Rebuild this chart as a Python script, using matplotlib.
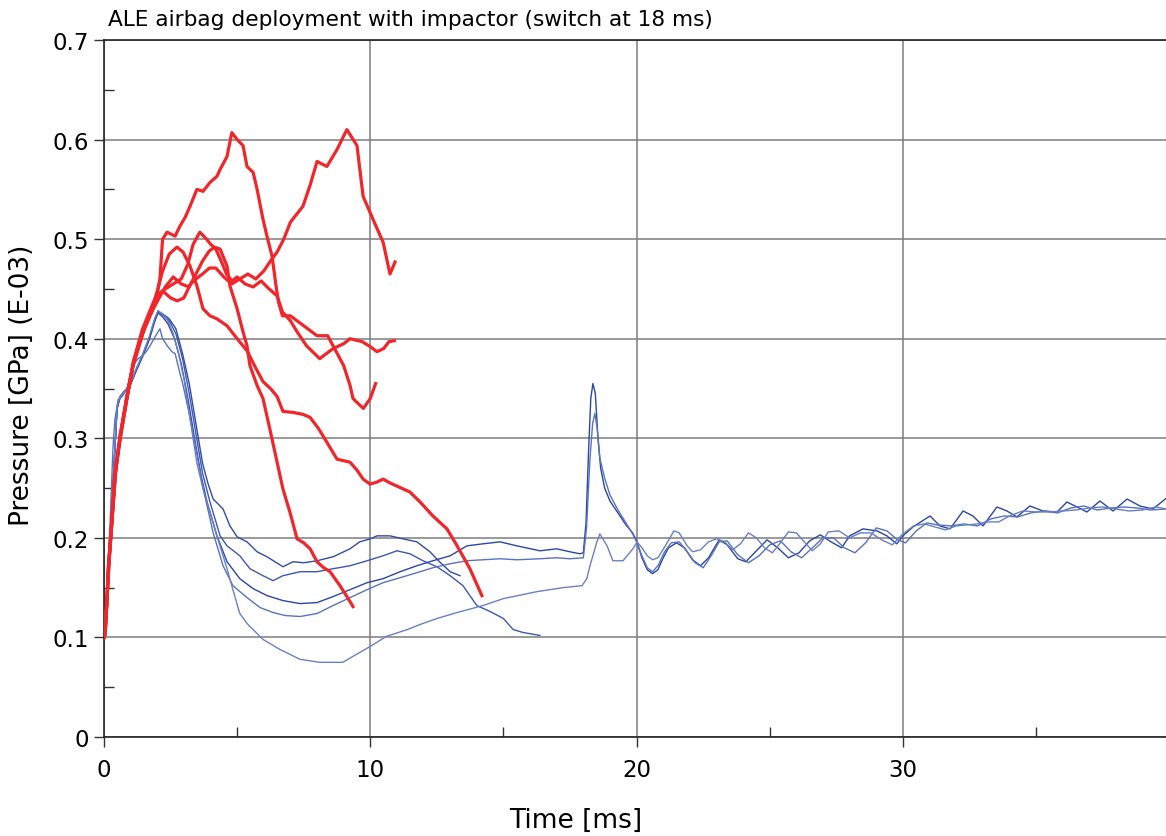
import matplotlib
matplotlib.use("Agg")
import matplotlib.pyplot as plt
from matplotlib.ticker import FixedLocator

plt.rcParams['font.family'] = ['DejaVu Sans']

# ---- data (time [ms], pressure [GPa E-03]) ----
# red: curves stopped early (before switch)
red_a = [(0, 0.10), (0.04, 0.103), (0.11, 0.137), (0.16, 0.17), (0.3, 0.219), (0.42, 0.268),
         (0.6, 0.30), (0.86, 0.342), (1.1, 0.377), (1.45, 0.41), (1.8, 0.433), (2.0, 0.445),
         (2.1, 0.46), (2.2, 0.50), (2.37, 0.507), (2.67, 0.503), (2.85, 0.513), (3.05, 0.522),
         (3.23, 0.533), (3.49, 0.55), (3.72, 0.548), (3.98, 0.557), (4.24, 0.563), (4.36, 0.57),
         (4.62, 0.583), (4.8, 0.607), (5.0, 0.60), (5.22, 0.594), (5.37, 0.573), (5.6, 0.567),
         (5.75, 0.55), (5.97, 0.52), (6.12, 0.503), (6.31, 0.483), (6.45, 0.455), (6.55, 0.437),
         (6.7, 0.423), (7.0, 0.423), (7.5, 0.413), (8.0, 0.403), (8.4, 0.403), (8.6, 0.393),
         (9.0, 0.373), (9.24, 0.353), (9.35, 0.34), (9.5, 0.336), (9.74, 0.33), (10.0, 0.34),
         (10.2, 0.355)]
red_b = [(0, 0.10), (0.05, 0.11), (0.12, 0.14), (0.2, 0.18), (0.32, 0.225), (0.45, 0.27),
         (0.62, 0.305), (0.88, 0.345), (1.12, 0.378), (1.48, 0.408), (1.85, 0.43), (2.05, 0.44),
         (2.3, 0.452), (2.6, 0.462), (2.9, 0.455), (3.2, 0.452), (3.45, 0.465), (3.7, 0.478),
         (3.95, 0.488), (4.15, 0.492), (4.36, 0.49), (4.62, 0.473), (4.73, 0.453), (5.0, 0.43),
         (5.22, 0.407), (5.37, 0.393), (5.48, 0.373), (5.75, 0.353), (5.97, 0.34), (6.23, 0.309),
         (6.5, 0.276), (6.72, 0.249), (6.98, 0.226), (7.25, 0.199), (7.5, 0.195), (7.74, 0.189),
         (8.0, 0.176), (8.25, 0.17), (8.49, 0.166), (8.86, 0.152), (9.1, 0.142), (9.35, 0.131)]
red_c = [(0, 0.10), (0.04, 0.105), (0.1, 0.135), (0.18, 0.172), (0.3, 0.22), (0.43, 0.266),
         (0.6, 0.302), (0.86, 0.34), (1.1, 0.374), (1.46, 0.406), (1.84, 0.432), (2.05, 0.445),
         (2.3, 0.45), (2.6, 0.455), (2.9, 0.46), (3.15, 0.475), (3.35, 0.495), (3.6, 0.507),
         (3.85, 0.50), (4.0, 0.495), (4.2, 0.49), (4.4, 0.478), (4.6, 0.465), (4.8, 0.458),
         (5.0, 0.462), (5.3, 0.455), (5.6, 0.452), (5.9, 0.458), (6.2, 0.45), (6.5, 0.443),
         (6.7, 0.427), (7.0, 0.418), (7.25, 0.407), (7.6, 0.393), (8.1, 0.38), (8.35, 0.385),
         (8.6, 0.39), (9.0, 0.395), (9.24, 0.40), (9.7, 0.397), (10.0, 0.392), (10.25, 0.387),
         (10.5, 0.39), (10.7, 0.397), (10.9, 0.398)]
red_d = [(0, 0.10), (0.05, 0.108), (0.11, 0.138), (0.17, 0.17), (0.3, 0.218), (0.41, 0.262),
         (0.6, 0.298), (0.85, 0.338), (1.08, 0.372), (1.45, 0.405), (1.8, 0.43), (2.0, 0.448),
         (2.2, 0.468), (2.45, 0.485), (2.74, 0.492), (2.97, 0.487), (3.23, 0.473), (3.49, 0.453),
         (3.72, 0.43), (3.98, 0.423), (4.24, 0.42), (4.62, 0.413), (5.0, 0.40), (5.37, 0.388),
         (5.67, 0.372), (5.97, 0.357), (6.25, 0.35), (6.5, 0.342), (6.72, 0.327), (7.1, 0.326),
         (7.47, 0.324), (7.74, 0.321), (8.05, 0.31), (8.37, 0.296), (8.75, 0.279), (9.24, 0.276),
         (9.5, 0.268), (9.73, 0.259), (9.99, 0.254), (10.25, 0.256), (10.48, 0.259), (10.75, 0.255),
         (11.0, 0.252), (11.49, 0.246), (11.87, 0.236), (12.35, 0.222), (12.88, 0.209),
         (13.26, 0.192), (13.74, 0.169), (14.19, 0.142)]
red_e = [(0, 0.10), (0.04, 0.102), (0.11, 0.133), (0.16, 0.168), (0.3, 0.216), (0.42, 0.264),
         (0.6, 0.299), (0.86, 0.341), (1.1, 0.375), (1.46, 0.408), (1.84, 0.431), (2.0, 0.44),
         (2.2, 0.448), (2.5, 0.441), (2.75, 0.438), (3.0, 0.441), (3.25, 0.455), (3.5, 0.461),
         (3.7, 0.465), (3.96, 0.471), (4.2, 0.471), (4.5, 0.462), (4.8, 0.455), (5.1, 0.46),
         (5.4, 0.465), (5.7, 0.46), (6.0, 0.468), (6.25, 0.478), (6.5, 0.487), (6.75, 0.50),
         (7.0, 0.517), (7.47, 0.533), (7.75, 0.555), (8.0, 0.578), (8.37, 0.573), (8.75, 0.59),
         (9.12, 0.61), (9.5, 0.594), (9.73, 0.543), (10.1, 0.52), (10.48, 0.497), (10.74, 0.465),
         (10.93, 0.477)]

# blue: curves that ran past the switch / full runs
blue_1 = [(0, 0.10), (0.05, 0.105), (0.11, 0.136), (0.23, 0.20), (0.34, 0.255), (0.41, 0.29),
          (0.49, 0.33), (0.6, 0.341), (0.75, 0.346), (1.0, 0.355), (1.2, 0.368), (1.45, 0.383),
          (1.7, 0.40), (1.9, 0.418), (2.03, 0.427), (2.2, 0.425), (2.45, 0.42), (2.7, 0.41),
          (2.95, 0.385), (3.2, 0.355), (3.45, 0.315), (3.7, 0.275), (3.9, 0.255), (4.1, 0.239),
          (4.47, 0.229), (4.73, 0.212), (5.0, 0.201), (5.37, 0.196), (5.75, 0.186), (6.12, 0.181),
          (6.72, 0.171), (7.1, 0.176), (7.5, 0.175), (8.0, 0.177), (8.6, 0.181), (9.24, 0.189),
          (9.6, 0.196), (10.0, 0.199), (10.25, 0.202), (10.74, 0.202), (11.23, 0.199),
          (11.75, 0.196), (12.24, 0.186), (12.6, 0.176), (13.0, 0.166), (13.37, 0.162)]
blue_2 = [(0, 0.10), (0.05, 0.106), (0.11, 0.137), (0.23, 0.202), (0.34, 0.256), (0.41, 0.29),
          (0.49, 0.331), (0.6, 0.34), (0.75, 0.345), (1.0, 0.356), (1.2, 0.369), (1.45, 0.384),
          (1.7, 0.401), (1.9, 0.419), (2.03, 0.428), (2.2, 0.424), (2.45, 0.418), (2.7, 0.405),
          (2.95, 0.38), (3.2, 0.345), (3.45, 0.305), (3.7, 0.265), (3.98, 0.236), (4.36, 0.202),
          (4.62, 0.192), (5.1, 0.182), (5.48, 0.169), (5.97, 0.162), (6.35, 0.157), (6.72, 0.162),
          (7.36, 0.166), (8.0, 0.166), (8.6, 0.169), (9.24, 0.172), (9.88, 0.177), (10.48, 0.182),
          (11.0, 0.187), (11.49, 0.184), (11.98, 0.177), (12.5, 0.171), (13.0, 0.162),
          (13.48, 0.152), (14.0, 0.132), (14.5, 0.126), (15.0, 0.119), (15.36, 0.108),
          (15.73, 0.105), (16.37, 0.102)]
blue_3 = [(0, 0.10), (0.05, 0.104), (0.11, 0.135), (0.23, 0.199), (0.34, 0.254), (0.41, 0.289),
          (0.49, 0.329), (0.6, 0.342), (0.75, 0.347), (1.0, 0.354), (1.2, 0.367), (1.45, 0.382),
          (1.7, 0.399), (1.9, 0.417), (2.03, 0.426), (2.2, 0.422), (2.4, 0.415), (2.65, 0.40),
          (2.9, 0.375), (3.15, 0.34), (3.4, 0.30), (3.65, 0.262), (3.87, 0.236), (4.24, 0.202),
          (4.62, 0.176), (5.1, 0.159), (5.6, 0.149), (6.12, 0.142), (6.72, 0.137), (7.36, 0.134),
          (8.0, 0.135), (8.6, 0.141), (9.24, 0.148), (9.88, 0.155), (10.48, 0.159), (11.12, 0.166),
          (11.75, 0.172), (12.35, 0.177), (13.0, 0.182), (13.63, 0.192), (14.23, 0.194),
          (14.87, 0.196), (15.5, 0.192), (16.37, 0.187), (17.0, 0.189), (17.5, 0.186),
          (17.87, 0.184), (18.0, 0.185), (18.1, 0.215), (18.2, 0.29), (18.28, 0.34),
          (18.36, 0.355), (18.45, 0.345), (18.55, 0.30), (18.65, 0.27), (18.8, 0.25),
          (19.0, 0.237), (19.3, 0.225), (19.6, 0.213), (19.85, 0.205), (20.0, 0.197),
          (20.2, 0.18), (20.4, 0.168), (20.6, 0.164), (20.8, 0.168), (21.0, 0.18), (21.2, 0.19),
          (21.5, 0.195), (21.8, 0.19), (22.1, 0.178), (22.4, 0.172), (22.7, 0.18), (23.1, 0.198),
          (23.4, 0.193), (23.8, 0.179), (24.1, 0.176), (24.5, 0.187), (24.9, 0.198), (25.3, 0.19),
          (25.7, 0.18), (26.1, 0.185), (26.5, 0.197), (26.9, 0.203), (27.3, 0.196), (27.7, 0.19),
          (28.0, 0.202), (28.5, 0.209), (29.03, 0.207), (29.4, 0.202), (29.77, 0.194),
          (30.0, 0.202), (30.38, 0.211), (31.02, 0.222), (31.39, 0.212), (31.77, 0.209),
          (32.26, 0.227), (32.63, 0.222), (33.01, 0.212), (33.53, 0.231), (33.91, 0.227),
          (34.28, 0.221), (34.77, 0.232), (35.26, 0.227), (35.79, 0.226), (36.16, 0.236),
          (36.54, 0.231), (36.91, 0.226), (37.4, 0.237), (37.89, 0.227), (38.42, 0.239),
          (38.9, 0.232), (39.39, 0.229), (39.9, 0.24)]
blue_4 = [(0, 0.10), (0.05, 0.11), (0.12, 0.15), (0.22, 0.21), (0.34, 0.292), (0.41, 0.319),
          (0.53, 0.339), (0.68, 0.342), (0.86, 0.35), (1.09, 0.373), (1.28, 0.38), (1.46, 0.383),
          (1.61, 0.388), (1.73, 0.393), (1.92, 0.402), (2.1, 0.41), (2.2, 0.40), (2.37, 0.393),
          (2.55, 0.387), (2.67, 0.385), (2.78, 0.373), (2.97, 0.353), (3.2, 0.325), (3.45, 0.29),
          (3.72, 0.25), (4.1, 0.205), (4.47, 0.172), (4.84, 0.152), (5.37, 0.14), (5.86, 0.13),
          (6.35, 0.125), (6.8, 0.122), (7.36, 0.121), (8.0, 0.124), (8.6, 0.132), (9.24, 0.14),
          (9.88, 0.148), (10.48, 0.155), (11.12, 0.16), (11.75, 0.165), (12.35, 0.17),
          (13.0, 0.174), (13.63, 0.177), (14.23, 0.178), (14.87, 0.179), (15.5, 0.178),
          (16.37, 0.179), (17.0, 0.18), (17.5, 0.179), (18.0, 0.18), (18.12, 0.21), (18.25, 0.28),
          (18.35, 0.315), (18.43, 0.325), (18.52, 0.31), (18.62, 0.28), (18.8, 0.26),
          (19.0, 0.243), (19.3, 0.228), (19.6, 0.215), (19.85, 0.204), (20.0, 0.196),
          (20.2, 0.182), (20.4, 0.17), (20.6, 0.166), (20.8, 0.172), (21.05, 0.186), (21.3, 0.195),
          (21.6, 0.196), (21.9, 0.186), (22.2, 0.175), (22.5, 0.17), (22.8, 0.182), (23.1, 0.196),
          (23.4, 0.197), (23.8, 0.183), (24.2, 0.175), (24.6, 0.182), (25.0, 0.193), (25.4, 0.197),
          (25.8, 0.186), (26.2, 0.18), (26.6, 0.19), (27.0, 0.2), (27.4, 0.2), (27.8, 0.19),
          (28.2, 0.185), (28.6, 0.195), (29.0, 0.21), (29.4, 0.207), (29.8, 0.198), (30.1, 0.195),
          (30.5, 0.207), (30.9, 0.215), (31.3, 0.213), (31.8, 0.212), (32.3, 0.214), (32.8, 0.212),
          (33.3, 0.219), (33.8, 0.222), (34.3, 0.221), (34.8, 0.225), (35.3, 0.227), (35.8, 0.225),
          (36.3, 0.23), (36.8, 0.232), (37.3, 0.228), (37.8, 0.23), (38.3, 0.231), (38.8, 0.23),
          (39.3, 0.228), (39.9, 0.229)]
blue_5 = [(0, 0.10), (0.05, 0.107), (0.11, 0.138), (0.23, 0.203), (0.34, 0.257), (0.41, 0.291),
          (0.49, 0.332), (0.6, 0.342), (0.75, 0.346), (1.0, 0.355), (1.2, 0.369), (1.45, 0.384),
          (1.7, 0.402), (1.9, 0.42), (2.03, 0.428), (2.2, 0.425), (2.4, 0.418), (2.6, 0.405),
          (2.8, 0.385), (3.0, 0.36), (3.2, 0.325), (3.49, 0.275), (3.72, 0.249), (3.98, 0.226),
          (4.24, 0.202), (4.62, 0.169), (4.84, 0.148), (5.1, 0.124), (5.37, 0.114), (5.97, 0.098),
          (6.6, 0.088), (7.36, 0.078), (8.1, 0.075), (8.97, 0.075), (9.35, 0.081), (10.0, 0.091),
          (10.6, 0.101), (11.4, 0.108), (11.87, 0.113), (12.5, 0.119), (13.26, 0.125),
          (14.23, 0.132), (15.0, 0.139), (16.26, 0.146), (17.24, 0.15), (17.95, 0.152),
          (18.13, 0.159), (18.25, 0.172), (18.51, 0.196), (18.62, 0.204), (18.89, 0.192),
          (19.11, 0.177), (19.49, 0.177), (19.86, 0.189), (20.02, 0.196), (20.2, 0.19),
          (20.4, 0.182), (20.6, 0.178), (20.8, 0.18), (21.1, 0.193), (21.4, 0.207), (21.6, 0.205),
          (21.9, 0.192), (22.1, 0.186), (22.4, 0.188), (22.7, 0.196), (23.0, 0.199), (23.3, 0.196),
          (23.6, 0.188), (23.9, 0.194), (24.2, 0.205), (24.5, 0.2), (24.8, 0.19), (25.1, 0.185),
          (25.4, 0.195), (25.7, 0.206), (26.0, 0.205), (26.3, 0.196), (26.6, 0.187), (26.9, 0.194),
          (27.2, 0.206), (27.6, 0.207), (28.0, 0.2), (28.4, 0.205), (28.8, 0.205), (29.2, 0.198),
          (29.6, 0.193), (30.0, 0.204), (30.4, 0.212), (30.8, 0.214), (31.2, 0.211), (31.6, 0.208),
          (32.0, 0.212), (32.4, 0.213), (32.8, 0.214), (33.2, 0.216), (33.6, 0.216), (34.0, 0.222),
          (34.5, 0.227), (35.0, 0.226), (35.5, 0.226), (36.0, 0.227), (36.5, 0.228), (37.0, 0.23),
          (37.5, 0.231), (38.0, 0.229), (38.5, 0.227), (39.0, 0.228), (39.5, 0.231), (39.9, 0.229)]

x_major = [0, 10, 20, 30]
x_minor = [5, 15, 25, 35]
y_major = [0, 0.1, 0.2, 0.3, 0.4, 0.5, 0.6, 0.7]
y_minor = [0.05, 0.15, 0.25, 0.35, 0.45, 0.55, 0.65]
y_labels = ['0', '0.1', '0.2', '0.3', '0.4', '0.5', '0.6', '0.7']

W, H = 1166, 837
fig = plt.figure(figsize=(W / 100, H / 100), dpi=100)
ax = fig.add_axes([104 / W, 1 - 738 / H, 1062 / W, 697 / H])

blues = [(blue_1, '#2f4ca8'), (blue_2, '#3c58b0'), (blue_3, '#2a47a4'),
         (blue_4, '#5a72bf'), (blue_5, '#6a80c6')]
for curve, col in blues:
    ax.plot([c[0] for c in curve], [c[1] for c in curve], color=col, lw=1.0, zorder=3)

for curve in [red_a, red_b, red_c, red_d, red_e]:
    ax.plot([c[0] for c in curve], [c[1] for c in curve], color='#f0262b', lw=2.3,
            zorder=4, solid_joinstyle='round')

ax.set_xlim(0, 39.88)
ax.set_ylim(0, 0.7)
ax.xaxis.set_major_locator(FixedLocator(x_major))
ax.xaxis.set_minor_locator(FixedLocator(x_minor))
ax.yaxis.set_major_locator(FixedLocator(y_major))
ax.yaxis.set_minor_locator(FixedLocator(y_minor))
ax.set_yticklabels(y_labels)
ax.grid(True, which='major', color='#7d7d7d', lw=1.1, zorder=1)

ax.tick_params(which='major', direction='out', length=7, width=1.0, color='#333333',
               labelsize=16.5, pad=4)
ax.tick_params(axis='x', which='major', pad=8)
ax.tick_params(which='minor', direction='in', length=7, width=1.0, color='#333333')

for side in ['left', 'bottom', 'top']:
    ax.spines[side].set_color('#222222')
    ax.spines[side].set_linewidth(1.2)
ax.spines['right'].set_visible(False)

fig.text(108 / W, 1 - 20 / H, 'ALE airbag deployment with impactor (switch at 18 ms)',
         ha='left', va='center', fontsize=15.6)
ax.set_xlabel('Time [ms]', fontsize=19)
ax.xaxis.set_label_coords((576 - 104) / 1062, (738 - 808) / 697)
ax.set_ylabel('Pressure [GPa] (E-03)', fontsize=19)
ax.yaxis.set_label_coords((35 - 104) / 1062, (738 - 385) / 697)

fig.savefig('out.png', dpi=100)
